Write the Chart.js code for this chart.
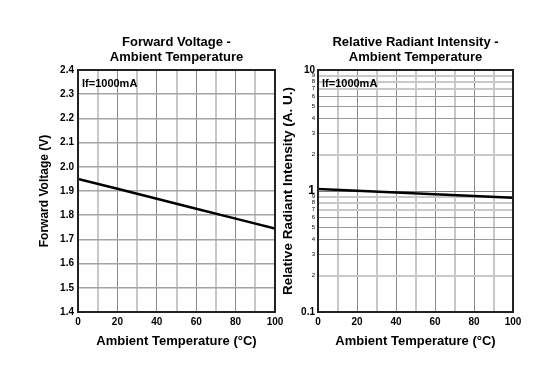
<!DOCTYPE html>
<html>
<head>
<meta charset="utf-8">
<script src="https://cdn.jsdelivr.net/npm/chart.js@4"></script>
<style>
  body { margin: 0; background: #fff; }
  #wrap { position: relative; width: 553px; height: 379px; }
  .box { position: absolute; top: 0; height: 379px; }
</style>
</head>
<body>
<div id="wrap">
  <div class="box" style="left:0;width:296px"><canvas id="vf"></canvas></div>
  <div class="box" style="left:276px;width:277px"><canvas id="ie"></canvas></div>
</div>
<script>
// data
const temps = [0, 20, 40, 60, 80, 100];
const forwardVoltage = [1.95, 1.909, 1.868, 1.827, 1.786, 1.745];
const relIntensity = [1.04, 1.006, 0.973, 0.941, 0.91, 0.88];
const vfTicks = ['1.4', '1.5', '1.6', '1.7', '1.8', '1.9', '2.0', '2.1', '2.2', '2.3', '2.4'];
const tempTicks = [0, 20, 40, 60, 80, 100];

const FONT = "'Liberation Sans', Arial, sans-serif";
const NARROW = "'Liberation Sans Narrow', 'Liberation Sans', Arial, sans-serif";

// frame, two-line title and the If note
const frame = {
  id: 'frame',
  afterDraw(chart, args, opts) {
    const { ctx, chartArea: a } = chart;
    ctx.save();
    ctx.strokeStyle = '#222';
    ctx.lineWidth = 2;
    ctx.strokeRect(a.left, a.top, a.right - a.left, a.bottom - a.top);
    ctx.fillStyle = '#000';
    ctx.textBaseline = 'middle';
    ctx.textAlign = 'center';
    ctx.font = 'bold 13px ' + FONT;
    const cx = (a.left + a.right) / 2;
    opts.title.forEach((t, i) => ctx.fillText(t, cx, 42.5 + i * 14.5));
    ctx.textAlign = 'left';
    ctx.font = 'bold 11px ' + FONT;
    ctx.fillText(opts.note, a.left + 4, a.top + 14);
    ctx.restore();
  }
};

function xScale() {
  return {
    type: 'linear',
    min: 0,
    max: 100,
    border: { display: false },
    grid: {
      drawTicks: false,
      color: c => (c.tick && c.tick.value % 20 === 0) ? '#8a8a8a' : '#c8c8c8',
      lineWidth: c => (c.tick && c.tick.value % 20 === 0) ? 1 : 2
    },
    ticks: {
      stepSize: 10,
      autoSkip: false,
      maxRotation: 0,
      padding: 4,
      color: '#000',
      font: { family: NARROW, size: 10, weight: 'bold' },
      callback: v => tempTicks.includes(v) ? String(v) : ''
    },
    title: {
      display: true,
      text: 'Ambient Temperature (°C)',
      color: '#000',
      font: { family: FONT, size: 13, weight: 'bold' },
      padding: { top: 0, bottom: 3 }
    },
    afterFit: s => { s.height = 40; }
  };
}

new Chart(document.getElementById('vf'), {
  type: 'line',
  data: {
    datasets: [{
      data: temps.map((t, i) => ({ x: t, y: forwardVoltage[i] })),
      borderColor: '#000',
      borderWidth: 2.5,
      pointRadius: 0,
      tension: 0
    }]
  },
  options: {
    responsive: true,
    maintainAspectRatio: false,
    animation: false,
    layout: { padding: { top: 70, bottom: 27, left: 0, right: 21 } },
    plugins: {
      legend: { display: false },
      tooltip: { enabled: false },
      frame: { title: ['Forward Voltage -', 'Ambient Temperature'], note: 'If=1000mA' }
    },
    scales: {
      x: xScale(),
      y: {
        min: 1.4,
        max: 2.4,
        border: { display: false },
        grid: { drawTicks: false, color: '#a4a4a4', lineWidth: 1.5 },
        ticks: {
          stepSize: 0.1,
          autoSkip: false,
          padding: 4,
          color: '#000',
          font: { family: NARROW, size: 10, weight: 'bold' },
          callback: (v, i) => vfTicks[i]
        },
        title: {
          display: true,
          text: 'Forward Voltage (V)',
          color: '#000',
          font: { family: FONT, size: 12, weight: 'bold' },
          padding: { top: 37, bottom: 0 }
        },
        afterFit: s => { s.width = 78; }
      }
    }
  },
  plugins: [frame]
});

const lightMinor = [2, 7, 8, 9];
function isDecade(v) {
  const e = Math.log10(v);
  return Math.abs(e - Math.round(e)) < 1e-6;
}
function mantissa(v) {
  return v / Math.pow(10, Math.floor(Math.log10(v) + 1e-9));
}
function isWhole(v) {
  const m = mantissa(v);
  return Math.abs(m - Math.round(m)) < 1e-6;
}

new Chart(document.getElementById('ie'), {
  type: 'line',
  data: {
    datasets: [{
      data: temps.map((t, i) => ({ x: t, y: relIntensity[i] })),
      borderColor: '#000',
      borderWidth: 2.5,
      pointRadius: 0,
      tension: 0
    }]
  },
  options: {
    responsive: true,
    maintainAspectRatio: false,
    animation: false,
    layout: { padding: { top: 70, bottom: 27, left: 0, right: 40 } },
    plugins: {
      legend: { display: false },
      tooltip: { enabled: false },
      frame: { title: ['Relative Radiant Intensity -', 'Ambient Temperature'], note: 'If=1000mA' }
    },
    scales: {
      x: xScale(),
      y: {
        type: 'logarithmic',
        min: 0.1,
        max: 10,
        border: { display: false },
        grid: {
          drawTicks: false,
          color: c => {
            if (!c.tick) return '#8a8a8a';
            const v = c.tick.value;
            if (!isWhole(v)) return 'rgba(0,0,0,0)';
            if (isDecade(v)) return '#7a7a7a';
            return lightMinor.includes(Math.round(mantissa(v))) ? '#c8c8c8' : '#9a9a9a';
          },
          lineWidth: c => (c.tick && !isDecade(c.tick.value) && lightMinor.includes(Math.round(mantissa(c.tick.value)))) ? 2 : 1
        },
        ticks: {
          autoSkip: false,
          padding: 3,
          color: '#000',
          font: c => {
            if (!c.tick) return { family: FONT, size: 6 };
            const v = c.tick.value;
            if (Math.abs(v - 1) < 1e-6) return { family: NARROW, size: 12, weight: 'bold' };
            if (isDecade(v)) return { family: NARROW, size: 10, weight: 'bold' };
            return { family: FONT, size: 6 };
          },
          callback: v => {
            if (!isWhole(v)) return '';
            return isDecade(v) ? String(v) : String(Math.round(mantissa(v)));
          }
        },
        title: {
          display: true,
          text: 'Relative Radiant Intensity (A. U.)',
          color: '#000',
          font: { family: FONT, size: 13.5, weight: 'bold' },
          padding: { top: 4, bottom: 0 }
        },
        afterFit: s => { s.width = 42; }
      }
    }
  },
  plugins: [frame]
});
</script>
</body>
</html>
